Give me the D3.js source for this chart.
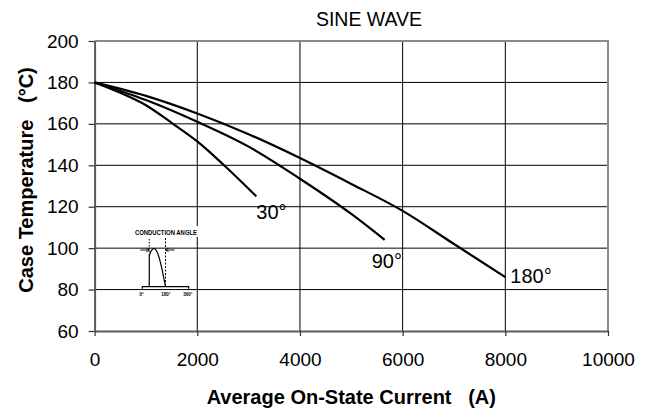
<!DOCTYPE html>
<html>
<head>
<meta charset="utf-8">
<script src="https://cdn.jsdelivr.net/npm/d3@7"></script>
<style>
html,body{margin:0;padding:0;background:#fff;}
svg{display:block;font-family:"Liberation Sans",Arial,sans-serif;}
</style>
</head>
<body>
<svg id="chart" width="652" height="411"></svg>
<script>
// ---- data ----
const chartTitle = "SINE WAVE";
const xTicks = [0, 2000, 4000, 6000, 8000, 10000];
const yTicks = [60, 80, 100, 120, 140, 160, 180, 200];
const seriesNames = ["30°", "90°", "180°"];
const current30 = [0, 500, 1000, 1500, 2000, 2500, 3150];
const temp30 = [180, 175, 169, 160.5, 151.5, 140.5, 125];
const current90 = [0, 1000, 2000, 3000, 4000, 5000, 5650];
const temp90 = [180, 171.5, 161, 149, 133.5, 116.5, 104];
const current180 = [0, 1000, 2000, 3000, 4000, 5000, 6000, 7000, 8000];
const temp180 = [180, 173.5, 165, 155, 143.5, 131, 118, 102, 86];
const xTitle = "Average On-State Current   (A)";
const yTitle = "Case Temperature   (°C)";
const insetTitle = "CONDUCTION ANGLE";
const insetAngles = ["0°", "180°", "360°"];

const svg = d3.select("#chart");
const x = d3.scaleLinear().domain([0, 10000]).range([94.6, 608]);
const y = d3.scaleLinear().domain([60, 200]).range([331, 41]);

// grid
svg.append("g").selectAll("line").data(yTicks.filter(v => v > 60 && v < 200)).join("line")
  .attr("x1", x(0)).attr("x2", x(10000)).attr("y1", d => y(d)).attr("y2", d => y(d))
  .attr("stroke", "#000").attr("stroke-width", 1);
svg.append("g").selectAll("line").data(xTicks.filter(v => v > 0 && v < 10000)).join("line")
  .attr("y1", y(60)).attr("y2", y(200)).attr("x1", d => x(d)).attr("x2", d => x(d))
  .attr("stroke", "#000").attr("stroke-width", 1);

// frame top/right
svg.append("path").attr("d", `M${x(0)},${y(200)}H${x(10000)}V${y(60)}`)
  .attr("fill", "none").attr("stroke", "#8a8a8a").attr("stroke-width", 2);

// axes
const fs = "19px";
const xAxis = svg.append("g").attr("transform", `translate(0,${y(60)})`)
  .call(d3.axisBottom(x).tickValues(xTicks).tickSize(5).tickSizeOuter(0).tickPadding(17).tickFormat(d3.format("d")));
const yAxis = svg.append("g").attr("transform", `translate(${x(0)},0)`)
  .call(d3.axisLeft(y).tickValues(yTicks).tickSize(6).tickSizeOuter(0).tickPadding(10).tickFormat(d3.format("d")));
[xAxis, yAxis].forEach(a => {
  a.select(".domain").attr("stroke", "#5a5a5a").attr("stroke-width", 2);
  a.selectAll(".tick line").attr("stroke", "#333").attr("stroke-width", 1.2);
  a.selectAll("text").attr("font-size", fs).attr("fill", "#000")
    .attr("font-family", "'Liberation Sans',Arial,sans-serif");
});

// curves
const line = d3.line().x(d => x(d[0])).y(d => y(d[1])).curve(d3.curveMonotoneX);
const series = [
  {name: seriesNames[0], pts: d3.zip(current30, temp30), dx: 0, dy: 23},
  {name: seriesNames[1], pts: d3.zip(current90, temp90), dx: -13, dy: 28},
  {name: seriesNames[2], pts: d3.zip(current180, temp180), dx: 5, dy: 6}
];
svg.append("g").selectAll("path").data(series).join("path")
  .attr("d", d => line(d.pts)).attr("fill", "none").attr("stroke", "#000").attr("stroke-width", 2.2);
svg.append("g").selectAll("text").data(series).join("text")
  .attr("x", d => x(d.pts[d.pts.length - 1][0]) + d.dx)
  .attr("y", d => y(d.pts[d.pts.length - 1][1]) + d.dy)
  .attr("font-size", "20px").text(d => d.name);

// titles
svg.append("text").attr("x", 369).attr("y", 25.7).attr("text-anchor", "middle")
  .attr("font-size", "19.5px").text(chartTitle);
svg.append("text").attr("x", (x(0) + x(10000)) / 2).attr("y", 403.5).attr("text-anchor", "middle")
  .attr("font-size", "20px").attr("font-weight", "bold").style("white-space", "pre").text(xTitle);
svg.append("text").attr("transform", "translate(33,180) rotate(-90)").attr("text-anchor", "middle")
  .attr("font-size", "20px").attr("font-weight", "bold").style("white-space", "pre").text(yTitle);

// inset: conduction angle diagram
const ix = d3.scaleLinear().domain([0, 360]).range([142.3, 188.7]);
const iy = d3.scaleLinear().domain([0, 1]).range([286.7, 248.5]);
const fire = 54;
const inset = svg.append("g");
inset.append("rect").attr("x", 133).attr("y", 226).attr("width", 66).attr("height", 11).attr("fill", "#fff");
inset.append("text").attr("x", 135).attr("y", 235).attr("font-size", "7.5px").attr("font-weight", "bold")
  .attr("textLength", 62).attr("lengthAdjust", "spacingAndGlyphs").text(insetTitle);
// baseline with end ticks
inset.append("path").attr("d", `M${ix(0)},${iy(0) + 2}V${iy(0)}H${ix(360)}V${iy(0) + 2}`)
  .attr("fill", "none").attr("stroke", "#000").attr("stroke-width", 1.2);
// waveform
const wave = d3.range(fire, 181, 3).map(a => [a, Math.sin(a * Math.PI / 180)]);
const wl = d3.line().x(d => ix(d[0])).y(d => iy(d[1]));
inset.append("path").attr("d", `M${ix(fire)},${iy(0)}` + wl(wave).replace("M", "L"))
  .attr("fill", "none").attr("stroke", "#000").attr("stroke-width", 1.2);
// dotted markers
inset.append("line").attr("x1", ix(fire)).attr("x2", ix(fire)).attr("y1", 239).attr("y2", iy(Math.sin(fire * Math.PI / 180)))
  .attr("stroke", "#000").attr("stroke-width", 1).attr("stroke-dasharray", "1.5,1.5");
inset.append("line").attr("x1", ix(180)).attr("x2", ix(180)).attr("y1", 238).attr("y2", iy(0))
  .attr("stroke", "#000").attr("stroke-width", 1).attr("stroke-dasharray", "2,1.5");
// arrows
inset.append("path").attr("d", `M${ix(fire) - 9},250H${ix(fire)}M${ix(fire) - 3},248.3L${ix(fire)},250L${ix(fire) - 3},251.7`)
  .attr("fill", "none").attr("stroke", "#000").attr("stroke-width", 0.9);
inset.append("path").attr("d", `M${ix(180) + 9},250H${ix(180)}M${ix(180) + 3},248.3L${ix(180)},250L${ix(180) + 3},251.7`)
  .attr("fill", "none").attr("stroke", "#000").attr("stroke-width", 0.9);
inset.append("g").selectAll("text").data(insetAngles).join("text")
  .attr("x", (d, i) => [141.7, 166, 188][i]).attr("y", 296)
  .attr("text-anchor", "middle").attr("font-size", "6px").attr("font-weight", "bold")
  .attr("transform", (d, i) => { const cx = [141.7, 166, 188][i]; return `translate(${cx},0) scale(0.75,1) translate(${-cx},0)`; })
  .text(d => d);
</script>
</body>
</html>
